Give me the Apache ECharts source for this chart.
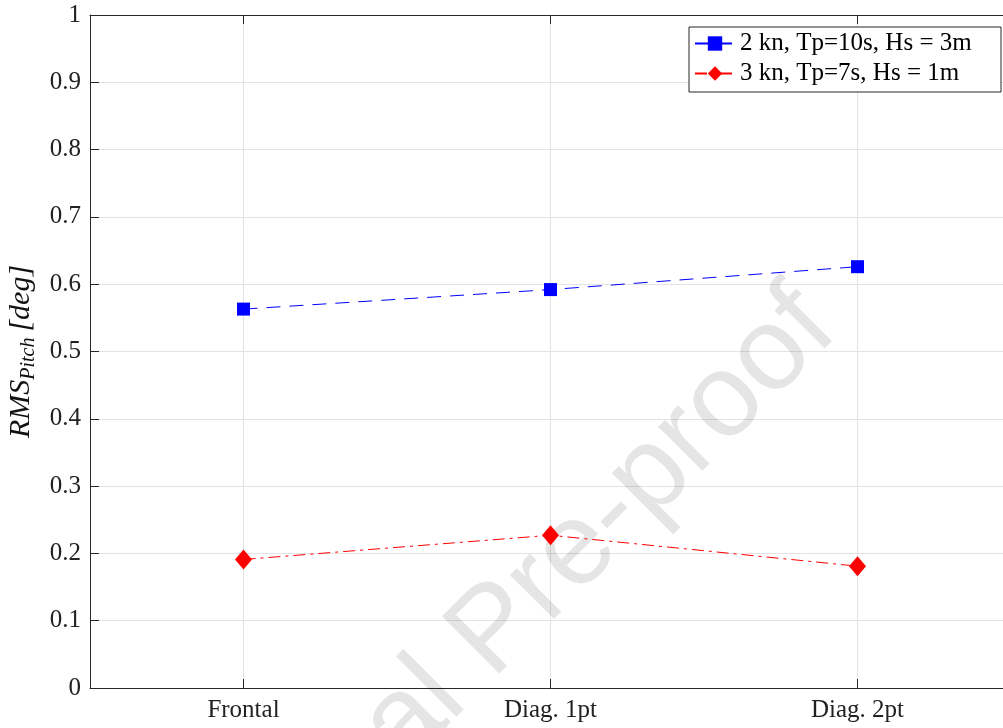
<!DOCTYPE html>
<html>
<head>
<meta charset="utf-8">
<title>RMS Pitch</title>
<script src="https://cdn.jsdelivr.net/npm/echarts@6/dist/echarts.min.js"></script>
<style>
  html, body { margin: 0; padding: 0; background: #ffffff; }
  #chart { width: 1003px; height: 728px; }
</style>
</head>
<body>
<div id="chart"></div>
<script>
// headings / categories
const categories = ["Frontal", "Diag. 1pt", "Diag. 2pt"];
// series values
const blueName = "2 kn, Tp=10s, Hs = 3m";
const blueValues = [0.563, 0.592, 0.626];
const redName = "3 kn, Tp=7s, Hs = 1m";
const redValues = [0.191, 0.227, 0.181];

const serif = "Liberation Serif";
const axisColor = "#262626";

const chart = echarts.init(document.getElementById("chart"));
chart.setOption({
  backgroundColor: "#ffffff",
  animation: false,
  graphic: [
    {
      // watermark of the journal
      type: "text",
      x: 495,
      y: 632,
      rotation: Math.PI / 4,
      z: 1,
      silent: true,
      style: {
        text: "Journal Pre-proof",
        font: "118px 'Liberation Sans'",
        fill: "rgba(0,0,0,0.1)",
        align: "center",
        verticalAlign: "middle",
      },
    },
  ],
  legend: {
    orient: "vertical",
    left: 689,
    top: 27,
    padding: [4, 6, 6, 5],
    itemWidth: 40,
    itemHeight: 18,
    itemGap: 5,
    backgroundColor: "#ffffff",
    borderColor: axisColor,
    borderWidth: 1,
    borderRadius: 0,
    data: [blueName, redName],
    textStyle: {
      fontFamily: serif,
      fontSize: 25,
      lineHeight: 25,
      width: 255,
      color: "#000000",
    },
  },
  grid: {
    left: 90,
    top: 15,
    width: 921,
    height: 673,
    outerBoundsMode: "none",
    containLabel: false,
  },
  xAxis: [
    {
      type: "category",
      data: categories,
      boundaryGap: true,
      axisLine: { show: true, lineStyle: { color: axisColor, width: 1 } },
      axisTick: { show: true, inside: true, length: 9, alignWithLabel: true, lineStyle: { color: axisColor } },
      axisLabel: {
        margin: 10,
        fontFamily: serif,
        fontSize: 25,
        color: "#222222",
      },
      splitLine: { show: true, alignWithLabel: true, lineStyle: { color: "#e3e3e3", width: 1 } },
    },
    {
      type: "category",
      data: categories,
      position: "top",
      boundaryGap: true,
      axisLine: { show: true, lineStyle: { color: axisColor, width: 1 } },
      axisTick: { show: true, inside: true, length: 9, alignWithLabel: true, lineStyle: { color: axisColor } },
      axisLabel: { show: false },
      splitLine: { show: false },
    },
  ],
  yAxis: {
    type: "value",
    min: 0,
    max: 1,
    interval: 0.1,
    name: "{i|RMS}{s|Pitch}{i|[deg]}",
    nameLocation: "middle",
    nameRotate: 90,
    nameGap: 44,
    nameTextStyle: {
      rich: {
        i: { fontFamily: serif, fontStyle: "italic", fontSize: 30, lineHeight: 36, color: "#111111" },
        s: { fontFamily: serif, fontStyle: "italic", fontSize: 20, lineHeight: 36, verticalAlign: "bottom", color: "#111111", padding: [0, 6, 0, 0] },
      },
    },
    axisLine: { show: true, lineStyle: { color: axisColor, width: 1 } },
    axisTick: { show: true, inside: true, length: 9, lineStyle: { color: axisColor } },
    axisLabel: {
      margin: 9,
      fontFamily: serif,
      fontSize: 25,
      color: "#222222",
    },
    splitLine: { show: true, lineStyle: { color: "#e3e3e3", width: 1 } },
  },
  series: [
    {
      name: blueName,
      type: "line",
      data: blueValues,
      symbol: "rect",
      symbolSize: 13,
      z: 3,
      itemStyle: { color: "#0000ff" },
      lineStyle: { color: "#0000ff", width: 1, type: [14, 9] },
    },
    {
      name: redName,
      type: "line",
      data: redValues,
      symbol: "diamond",
      symbolSize: [17, 20],
      z: 3,
      itemStyle: { color: "#ff0000" },
      lineStyle: { color: "#ff0000", width: 1, type: [12, 5, 3, 5] },
    },
  ],
});
</script>
</body>
</html>
